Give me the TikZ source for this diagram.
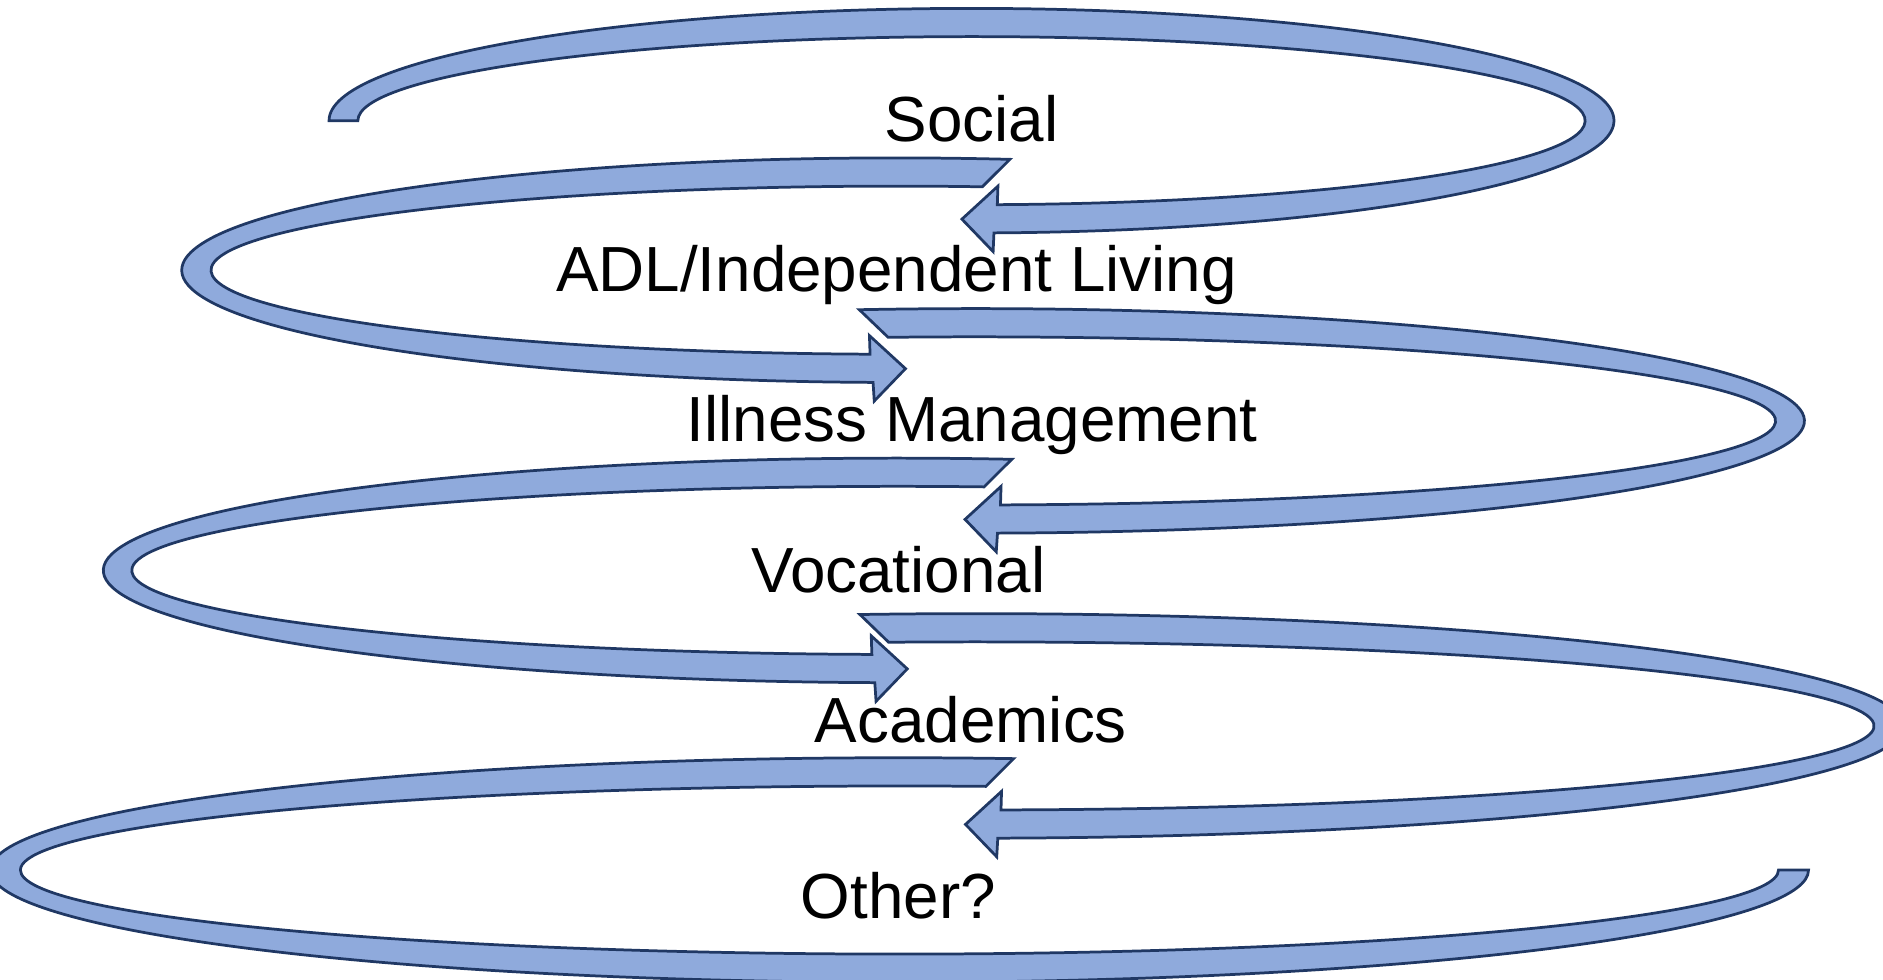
\documentclass[tikz,border=0pt]{standalone}
\usepackage{fontspec}
\setmainfont{Liberation Sans}
\definecolor{bandfill}{HTML}{8FAADC}
\definecolor{bandline}{HTML}{203864}
\begin{document}
\begin{tikzpicture}[x=0.01cm, y=0.01cm,
  band/.style={fill=bandfill, draw=bandline, line width=0.65pt},
  lbl/.style={anchor=base, inner sep=0pt, font=\fontsize{15.1}{18}\selectfont}]

\useasboundingbox (0,0) rectangle (1568,-816);

% Social
\begin{scope}[shift={(809,-100.5)}]
\draw[band] (180:535 and 93.5) arc[start angle=180, end angle=-88, x radius=535, y radius=93.5]
  -- (18,-109) -- (-8,-82) -- (22,-54.5)
  -- (-87.59:511 and 70) arc[start angle=-87.59, end angle=180, x radius=511, y radius=70] -- cycle;
\end{scope}

% ADL
\begin{scope}[shift={(746,-225)}]
\draw[band] (80.81:594.7 and 93.5) arc[start angle=80.81, end angle=268.17, x radius=594.7, y radius=93.5]
  -- (-18,-109) -- (8,-82) -- (-22,-54.5)
  -- (267.84:570.3 and 70) arc[start angle=267.84, end angle=82.75, x radius=570.3, y radius=70] -- cycle;
\end{scope}

% Illness Management
\begin{scope}[shift={(811.6,-350.5)}]
\draw[band] (97.99:691 and 93.5) arc[start angle=97.99, end angle=-88.42, x radius=691, y radius=93.5]
  -- (18,-109) -- (-8,-82) -- (22,-54.5)
  -- (-88.15:667 and 70) arc[start angle=-88.15, end angle=96.2, x radius=667, y radius=70] -- cycle;
\end{scope}

% Vocational
\begin{scope}[shift={(747.5,-475)}]
\draw[band] (81.74:661.5 and 93.5) arc[start angle=81.74, end angle=268.35, x radius=661.5, y radius=93.5]
  -- (-18,-109) -- (8,-82) -- (-22,-54.5)
  -- (268.07:637.8 and 70) arc[start angle=268.07, end angle=83.52, x radius=637.8, y radius=70] -- cycle;
\end{scope}

% Academics
\begin{scope}[shift={(812,-604.5)}]
\draw[band] (97.13:773 and 93.5) arc[start angle=97.13, end angle=-88.6, x radius=773, y radius=93.5]
  -- (18,-109) -- (-8,-82) -- (22,-54.5)
  -- (-88.35:748.6 and 70) arc[start angle=-88.35, end angle=95.52, x radius=748.6, y radius=70] -- cycle;
\end{scope}

% Other?
\begin{scope}[shift={(749,-724.5)}]
\draw[band] (82.79:757 and 93.5) arc[start angle=82.79, end angle=360, x radius=757, y radius=93.5]
  -- (732,0) arc[start angle=360, end angle=84.36, x radius=732, y radius=70] -- cycle;
\end{scope}

\node[lbl] (social) at (809,-118) {Social};
\node[lbl] (adl) at (746.5,-243) {ADL/Independent Living};
\node[lbl] (illness) at (809.5,-368) {Illness Management};
\node[lbl] (vocational) at (748,-493) {Vocational};
\node[lbl] (academics) at (808.5,-618) {Academics};
\node[lbl] (other) at (748,-765) {Other?};

\end{tikzpicture}
\end{document}
